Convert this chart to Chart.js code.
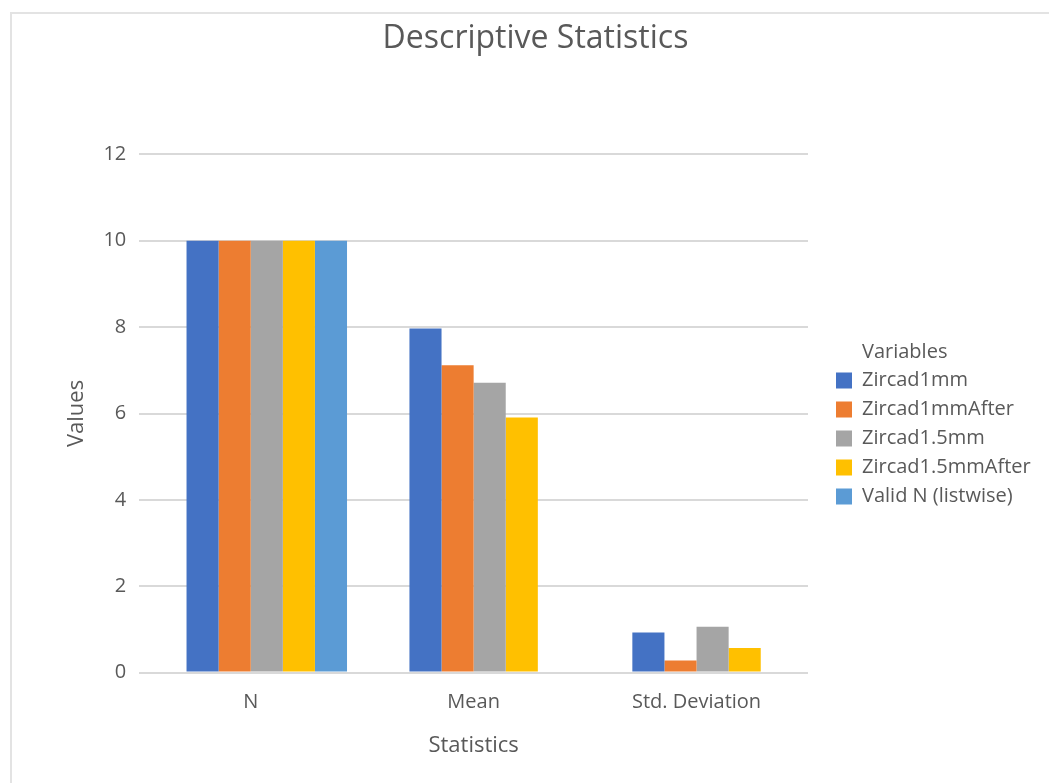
<!DOCTYPE html>
<html>
<head>
<meta charset="utf-8">
<script src="https://cdn.jsdelivr.net/npm/chart.js@4"></script>
<style>
  html, body { margin: 0; padding: 0; background: #fff; }
  .frame { position: absolute; left: 10px; top: 12px; width: 1060px; height: 800px; border: 2px solid #e3e3e3; box-sizing: border-box; }
  .wrap { position: absolute; left: 0; top: 0; width: 1049px; height: 783px; }
</style>
</head>
<body>
<div class="frame"></div>
<div class="wrap"><canvas id="statsChart"></canvas></div>
<script>
// categories and series
const statistics = ['N', 'Mean', 'Std. Deviation'];
const zircad1mm = [10, 7.97, 0.93];
const zircad1mmAfter = [10, 7.12, 0.28];
const zircad15mm = [10, 6.71, 1.06];
const zircad15mmAfter = [10, 5.91, 0.57];
const validN = [10, null, null];
const emptySeries = [null, null, null]; // blank series the original kept, takes the first slot
const yTicks = [0, 2, 4, 6, 8, 10, 12];

const fontFamily = '"Open Sans", "Noto Sans", sans-serif';
const textColor = '#595959';
const LEGEND_DX = 19;
const LEGEND_DY = 11;
const TITLE_DY = 9;
const legendFont = 20;
const legendBox = 16;
const legendPad = 9;
const legendTitleFont = 20;

// move the legend a little off the plot and draw its title in line with the item text
const legendTweak = {
    id: 'legendTweak',
    afterLayout(chart) {
        const lg = chart.legend;
        lg.left += LEGEND_DX; lg.right += LEGEND_DX;
        lg.top += LEGEND_DY; lg.bottom += LEGEND_DY;
    },
    afterDraw(chart) {
        const lg = chart.legend;
        const titleH = legendTitleFont * 1.2 + 4;
        const maxH = lg.columnSizes[0].height;
        const y = legendTitleFont / 2 + (lg.top + lg.bottom - maxH - legendPad - titleH) / 2 + TITLE_DY;
        const ctx = chart.ctx;
        ctx.save();
        ctx.fillStyle = textColor;
        ctx.font = legendTitleFont + 'px ' + fontFamily;
        ctx.textAlign = 'left';
        ctx.textBaseline = 'middle';
        ctx.fillText('Variables', lg.left + legendPad + legendBox + legendFont / 2, y);
        ctx.restore();
    }
};

new Chart(document.getElementById('statsChart').getContext('2d'), {
    type: 'bar',
    data: {
        labels: statistics,
        datasets: [
            { label: '', data: emptySeries, backgroundColor: 'rgba(0,0,0,0)' },
            { label: 'Zircad1mm', data: zircad1mm, backgroundColor: '#4472C4' },
            { label: 'Zircad1mmAfter', data: zircad1mmAfter, backgroundColor: '#ED7D31' },
            { label: 'Zircad1.5mm', data: zircad15mm, backgroundColor: '#A5A5A5' },
            { label: 'Zircad1.5mmAfter', data: zircad15mmAfter, backgroundColor: '#FFC000' },
            { label: 'Valid N (listwise)', data: validN, backgroundColor: '#5B9BD5' }
        ]
    },
    plugins: [legendTweak],
    options: {
        responsive: true,
        maintainAspectRatio: false,
        animation: false,
        datasets: {
            bar: { barPercentage: 1, categoryPercentage: 0.864, borderWidth: 0 }
        },
        layout: { padding: { left: 50, right: 28, top: 20, bottom: 24 } },
        plugins: {
            title: {
                display: true,
                text: 'Descriptive Statistics',
                color: textColor,
                font: { family: fontFamily, size: 32, weight: 'normal' },
                padding: { top: 0, bottom: 96 }
            },
            legend: {
                position: 'right',
                fullSize: false,
                maxWidth: 213,
                labels: {
                    color: textColor,
                    font: { family: fontFamily, size: legendFont },
                    boxWidth: legendBox,
                    boxHeight: legendBox,
                    padding: legendPad,
                    filter: item => item.text !== ''
                },
                title: {
                    display: true,
                    text: 'Variables',
                    color: 'rgba(0,0,0,0)',
                    font: { family: fontFamily, size: legendTitleFont },
                    padding: { top: 0, bottom: 4 }
                }
            },
            tooltip: { enabled: false }
        },
        scales: {
            x: {
                grid: { display: false, drawTicks: false },
                border: { display: false },
                ticks: { color: textColor, font: { family: fontFamily, size: 20 }, padding: 18 },
                title: {
                    display: true,
                    text: 'Statistics',
                    color: textColor,
                    font: { family: fontFamily, size: 22 },
                    padding: { top: 0, bottom: 0 }
                }
            },
            y: {
                min: 0,
                max: 12,
                afterBuildTicks: axis => { axis.ticks = yTicks.map(v => ({ value: v })); },
                grid: { color: '#d9d9d9', lineWidth: 2, drawTicks: false },
                border: { display: false },
                ticks: { color: textColor, font: { family: fontFamily, size: 20 }, padding: 13 },
                title: {
                    display: true,
                    text: 'Values',
                    color: textColor,
                    font: { family: fontFamily, size: 22 },
                    padding: { top: 14, bottom: 0 }
                }
            }
        }
    }
});
</script>
</body>
</html>
